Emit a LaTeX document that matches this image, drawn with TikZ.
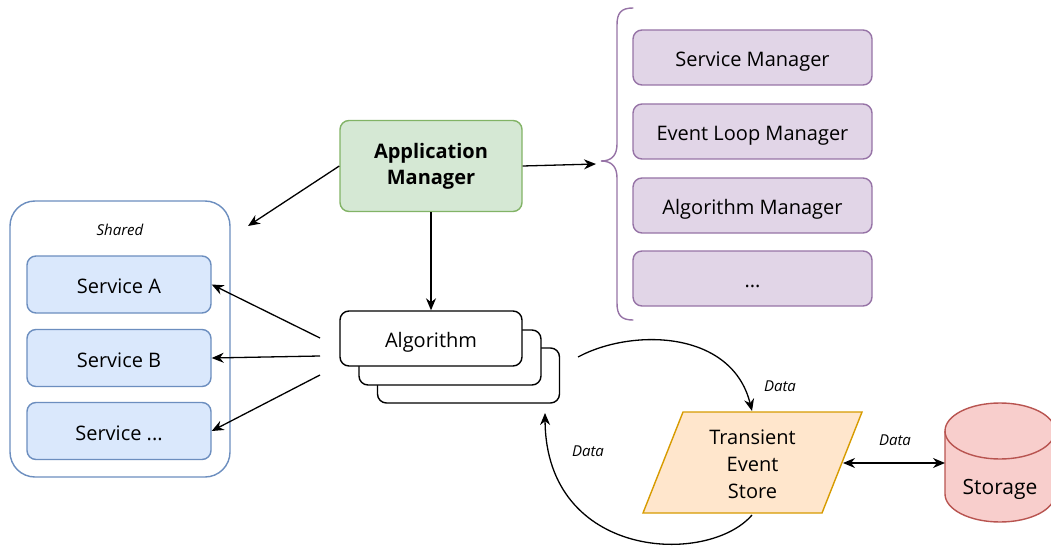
\documentclass[tikz,border=0pt]{standalone}
\usepackage{fontspec}
\setmainfont{Open Sans}
\usetikzlibrary{arrows.meta,positioning}
\definecolor{gfill}{HTML}{D5E8D4}\definecolor{gline}{HTML}{82B366}
\definecolor{bfill}{HTML}{DAE8FC}\definecolor{bline}{HTML}{6C8EBF}
\definecolor{pfill}{HTML}{E1D5E7}\definecolor{pline}{HTML}{9673A6}
\definecolor{ofill}{HTML}{FFE6CC}\definecolor{oline}{HTML}{D79B00}
\definecolor{rfill}{HTML}{F8CECC}\definecolor{rline}{HTML}{B85450}
\tikzset{
  box/.style={rounded corners=9pt, line width=1.4pt, align=center, inner sep=0pt,
    font=\fontsize{20}{24}\selectfont},
  onel/.style={text height=20pt, text depth=2pt},
  appbox/.style={box, fill=gfill, draw=gline, minimum width=182pt, minimum height=91pt,
    font=\fontsize{20}{26}\selectfont\bfseries},
  svcbox/.style={box, onel, fill=bfill, draw=bline, minimum width=184pt, minimum height=57pt},
  mgrbox/.style={box, onel, fill=pfill, draw=pline, minimum width=239pt, minimum height=55pt},
  algbox/.style={box, onel, fill=white, draw=black, minimum width=182pt, minimum height=55pt},
  lbl/.style={font=\fontsize{15}{17}\selectfont\itshape, inner sep=0pt},
  conn/.style={line width=1.3pt, -{Stealth[length=12pt,width=10pt]}},
}
\begin{document}
\begin{tikzpicture}[x=1pt,y=-1pt]
\useasboundingbox (0,0) rectangle (1051,548);
\clip (0,0) rectangle (1051,548);

% Shared container
\node[draw=bline, line width=1.4pt, rounded corners=25pt, fill=white,
  minimum width=220pt, minimum height=276pt, inner sep=0pt] (shared) at (120,339) {};
\node[lbl] (sharedlbl) at (120,230) {Shared};
\node[svcbox] (sa) at (119,284.5) {Service A};
\node[svcbox] (sb) at (119,358) {Service B};
\node[svcbox] (sc) at (119,431) {Service ...};

% Application manager
\node[appbox] (app) at (431,166) {Application\\Manager};

% Managers list
\node[mgrbox] (m1) at (752.5,57.5) {Service Manager};
\node[mgrbox] (m2) at (752.5,131.5) {Event Loop Manager};
\node[mgrbox] (m3) at (752.5,205.5) {Algorithm Manager};
\node[mgrbox] (m4) at (752.5,278.5) {...};

% Brace
\draw[pline, line width=1.4pt, line cap=round]
  (633,8) .. controls (621,8) and (617,13) .. (617,25) -- (617,144)
  .. controls (617,155) and (612,161) .. (601,161)
  .. controls (612,161) and (617,167) .. (617,178) -- (617,303)
  .. controls (617,315) and (621,320) .. (633,320);
\coordinate (bracetip) at (596,164);

% Algorithm stack
\node[algbox] (alg3) at (468.5,375.5) {};
\node[algbox] (alg2) at (450,357.5) {};
\node[algbox] (alg) at (431,338.5) {Algorithm};

% Transient event store
\draw[fill=ofill, draw=oline, line width=1.4pt] (683,412) -- (862,412) -- (822,513) -- (643,513) -- cycle;
\node[align=center, font=\fontsize{20}{27}\selectfont, inner sep=0pt, minimum width=190pt, minimum height=100pt] (tes) at (752.5,464) {Transient\\Event\\Store};

% Storage cylinder
\draw[fill=rfill, draw=rline, line width=1.4pt]
  (945,431) -- (945,494) arc[start angle=180, end angle=360, x radius=55pt, y radius=28pt]
  -- (1055,431) arc[start angle=0, end angle=180, x radius=55pt, y radius=28pt] -- cycle;
\draw[draw=rline, line width=1.4pt]
  (945,431) arc[start angle=180, end angle=360, x radius=55pt, y radius=28pt];
\node[inner sep=0pt, minimum width=110pt, minimum height=120pt] (storage) at (1000,462) {};
\node[font=\fontsize{21}{25}\selectfont, inner sep=0pt] (storagelbl) at (1000,489) {Storage};

% Connectors
\draw[conn] (app.east) -- (bracetip);
\coordinate (sharedtip) at (248,226);
\draw[conn] (app.west) -- (sharedtip);
\draw[conn] (app.south) -- (alg.north);

\coordinate (a1) at (320,338);
\coordinate (a2) at (320,356);
\coordinate (a3) at (320,375);
\draw[conn] (a1) -- (sa.east);
\draw[conn] (a2) -- (sb.east);
\draw[conn] (a3) -- (sc.east);

\coordinate (c1s) at (578,357);
\coordinate (c1e) at (752,411);
\draw[conn] (c1s) .. controls (632,328) and (732,330) .. (c1e);
\node[lbl] (d1) at (780,386) {Data};

\coordinate (c2s) at (752,515);
\coordinate (c2e) at (545,413);
\draw[conn] (c2s) .. controls (708,566) and (546,560) .. (c2e);
\node[lbl] (d2) at (588,451) {Data};

\coordinate (tesR) at (843,463);
\coordinate (stoL) at (945,463);
\draw[line width=1.3pt, {Stealth[length=12pt,width=10pt]}-{Stealth[length=12pt,width=10pt]}] (tesR) -- (stoL);
\node[lbl] (d3) at (895,440) {Data};
\end{tikzpicture}
\end{document}
